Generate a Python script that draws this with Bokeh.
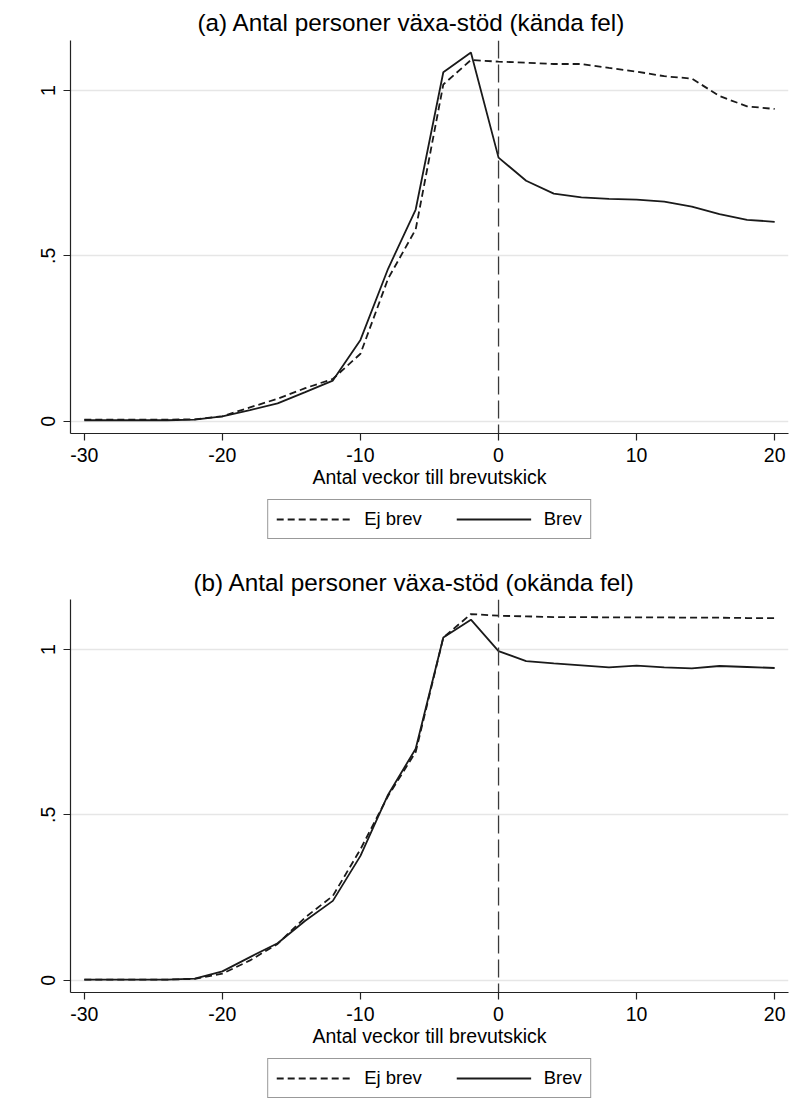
from bokeh.plotting import figure
from bokeh.layouts import column
from bokeh.models import Legend, LegendItem, Span, FixedTicker, Range1d, Title
from bokeh.embed import file_html
from bokeh.resources import INLINE

# ---- data ----
weeks = [-30, -28, -26, -24, -22, -20, -18, -16, -14, -12, -10, -8, -6,
         -4, -2, 0, 2, 4, 6, 8, 10, 12, 14, 16, 18, 20]

a_ej_brev = [0.005, 0.005, 0.005, 0.005, 0.006, 0.015, 0.042, 0.068, 0.100, 0.128,
             0.204, 0.431, 0.580, 1.018, 1.092, 1.087, 1.084, 1.080, 1.080, 1.068,
             1.057, 1.043, 1.036, 0.983, 0.952, 0.944]
a_brev = [0.003, 0.003, 0.003, 0.003, 0.005, 0.015, 0.034, 0.054, 0.088, 0.123,
          0.246, 0.461, 0.640, 1.055, 1.115, 0.797, 0.727, 0.688, 0.677, 0.672,
          0.670, 0.664, 0.649, 0.626, 0.609, 0.603]

b_ej_brev = [0.002, 0.002, 0.002, 0.002, 0.004, 0.020, 0.060, 0.110, 0.190, 0.255,
             0.396, 0.557, 0.690, 1.036, 1.107, 1.102, 1.100, 1.098, 1.098, 1.097,
             1.097, 1.097, 1.096, 1.096, 1.095, 1.095]
b_brev = [0.002, 0.002, 0.002, 0.002, 0.005, 0.027, 0.070, 0.112, 0.180, 0.240,
          0.376, 0.561, 0.700, 1.036, 1.090, 0.995, 0.965, 0.958, 0.952, 0.946,
          0.951, 0.946, 0.943, 0.950, 0.947, 0.944]

x_ticks = [-30, -20, -10, 0, 10, 20]
x_tick_labels = {-30: "-30", -20: "-20", -10: "-10", 0: "0", 10: "10", 20: "20"}
y_ticks = [0, 0.5, 1]
y_tick_labels = {0: "0", 0.5: ".5", 1: "1"}

titles = ["(a) Antal personer växa-stöd (kända fel)",
          "(b) Antal personer växa-stöd (okända fel)"]
x_label = "Antal veckor till brevutskick"
legend_labels = ["Ej brev", "Brev"]

FONT = "Liberation Sans"
LINE_COL = "#1a1a1a"
EJ_DASH = "7 4"
LW = 1.8


def make_panel(title, ej, brev, top, title_offset, title_standoff):
    frame_h = 393
    bottom = 57
    p = figure(width=798, height=top + frame_h + bottom,
               x_range=Range1d(-31, 21), y_range=Range1d(-0.037, 1.151),
               output_backend="svg", toolbar_location=None,
               min_border_left=70, min_border_right=10,
               min_border_top=top, min_border_bottom=bottom)
    p.title = Title(text=title, align="left", text_font=FONT,
                    text_font_size="24.3px", text_font_style="normal",
                    text_color="#000000", offset=title_offset,
                    standoff=title_standoff)
    p.outline_line_color = None
    p.background_fill_color = "white"
    p.border_fill_color = "white"

    p.xgrid.grid_line_color = None
    p.ygrid.grid_line_color = "#e6e6e6"
    p.ygrid.grid_line_width = 1.5
    p.ygrid.ticker = FixedTicker(ticks=y_ticks)

    p.xaxis.ticker = FixedTicker(ticks=x_ticks)
    p.xaxis.major_label_overrides = x_tick_labels
    p.yaxis.ticker = FixedTicker(ticks=y_ticks)
    p.yaxis.major_label_overrides = y_tick_labels
    p.yaxis.major_label_orientation = "parallel"
    p.xaxis.axis_label = x_label

    for ax in (p.xaxis, p.yaxis):
        ax.axis_line_color = "#222222"
        ax.axis_line_width = 1.2
        ax.major_tick_line_color = "#222222"
        ax.major_tick_line_width = 1.2
        ax.major_tick_out = 7
        ax.major_tick_in = 0
        ax.minor_tick_line_color = None
        ax.major_label_text_font = FONT
        ax.major_label_text_font_size = "19.5px"
        ax.major_label_text_color = "#000000"
        ax.axis_label_text_font = FONT
        ax.axis_label_text_font_size = "19.5px"
        ax.axis_label_text_font_style = "normal"
        ax.axis_label_text_color = "#000000"
    p.xaxis.major_label_standoff = 7
    p.xaxis.axis_label_standoff = 1
    p.yaxis.major_label_standoff = 8

    vline = Span(location=0, dimension="height", line_color="#3a3a3a",
                 line_width=1.3, line_dash="18 6")
    p.add_layout(vline)

    p.line(weeks, ej, line_color=LINE_COL, line_width=LW, line_dash=EJ_DASH)
    p.line(weeks, brev, line_color=LINE_COL, line_width=LW)
    return p


def make_legend(height, ej, brev):
    # legend strip: the series lines lie outside this strip's y range, only the key shows
    lf = figure(width=798, height=height, x_range=Range1d(-31, 21), y_range=Range1d(5, 6),
                output_backend="svg", toolbar_location=None,
                min_border_left=70, min_border_right=10,
                min_border_top=0, min_border_bottom=0)
    lf.axis.visible = False
    lf.grid.visible = False
    lf.outline_line_color = None
    lf.border_fill_color = "white"
    r_ej = lf.line(weeks, ej, line_color=LINE_COL, line_width=LW, line_dash=EJ_DASH)
    r_br = lf.line(weeks, brev, line_color=LINE_COL, line_width=LW)
    legend = Legend(items=[LegendItem(label=legend_labels[0], renderers=[r_ej]),
                           LegendItem(label=legend_labels[1], renderers=[r_br])],
                    orientation="horizontal", location="top_center",
                    glyph_width=75, glyph_height=20, label_standoff=13,
                    spacing=34, padding=8, margin=9,
                    label_text_font=FONT, label_text_font_size="18.5px",
                    label_text_color="#000000",
                    border_line_color="#333333", border_line_width=1,
                    background_fill_color="white")
    lf.add_layout(legend)
    return lf


pa = make_panel(titles[0], a_ej_brev, a_brev, 40, 127, 9)
la = make_legend(67, a_ej_brev, a_brev)
pb = make_panel(titles[1], b_ej_brev, b_brev, 42, 123, 8)
lb = make_legend(66, b_ej_brev, b_brev)

layout = column(pa, la, pb, lb, spacing=0)
open("out.html", "w").write(file_html(layout, INLINE))
